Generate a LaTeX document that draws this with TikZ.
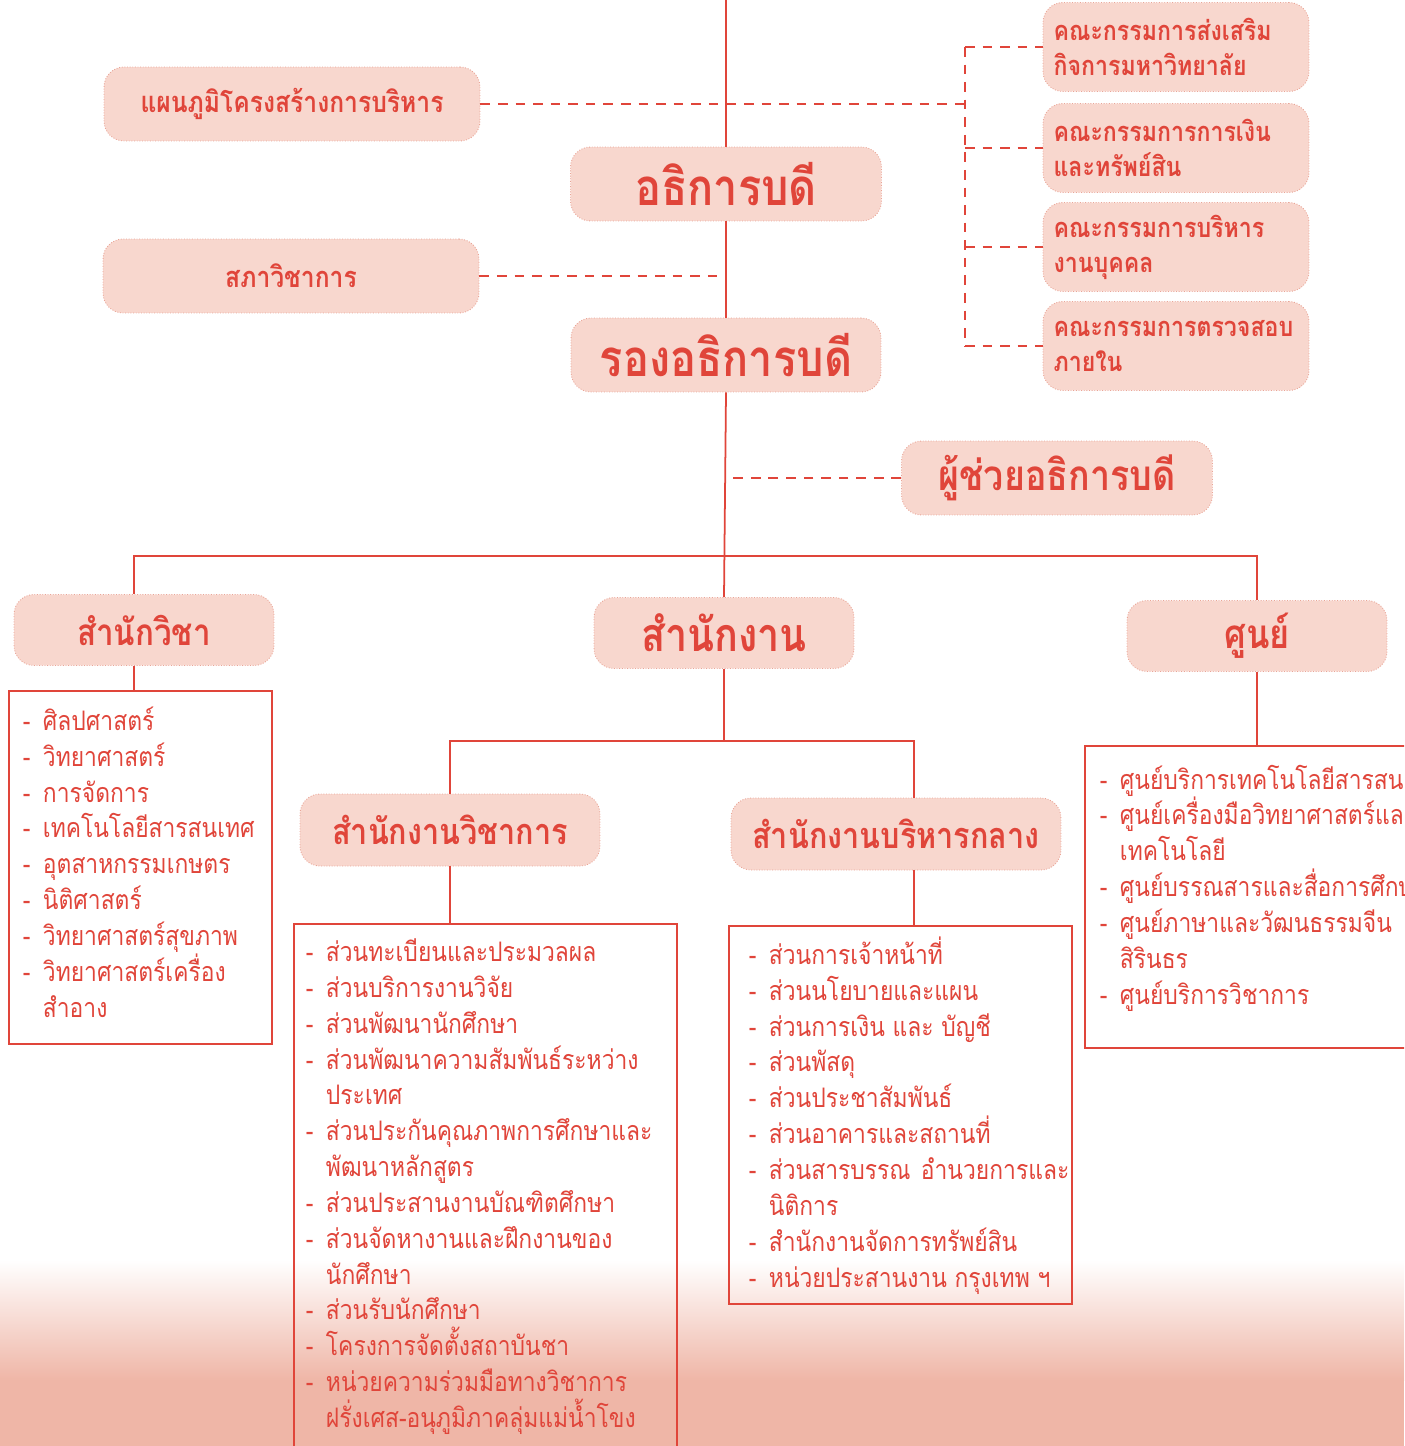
\documentclass[tikz,border=0pt]{standalone}
\usepackage{fontspec}
\newfontfamily\thaifont[Script=Thai, FakeStretch=0.85]{Loma}
\usetikzlibrary{positioning}

\definecolor{chartred}{HTML}{E0453A}
\definecolor{boxfill}{HTML}{F8D7CE}
\definecolor{boxedge}{HTML}{E9A597}
\definecolor{pagefade}{HTML}{EFB6A7}

\newcommand{\dashitem}{\makebox[0.75em][l]{-}}
\newcommand{\wrapitem}{\hspace*{0.75em}}
\newcommand{\listpanel}[4]{\parbox[c][#2][t]{#1}{\raggedright\vspace*{#3}#4}}

\begin{document}
\begin{tikzpicture}[
    x=0.02cm, y=-0.02cm,
    every node/.style={font=\thaifont, text=chartred},
    headbox/.style={draw=boxedge, densely dotted, fill=boxfill, rounded corners=0.4cm, line width=0.5pt, font=\thaifont\bfseries\fontsize{16.5}{20}\selectfont},
    bigbox/.style={headbox, font=\thaifont\bfseries\fontsize{29}{34}\selectfont},
    unitbox/.style={headbox, font=\thaifont\bfseries\fontsize{20.5}{24}\selectfont},
    commbox/.style={headbox, align=left, text width=4.9cm, inner xsep=0.2cm, font=\thaifont\bfseries\fontsize{15.5}{19.8}\selectfont},
    listbox/.style={draw=chartred, line width=0.9pt, anchor=north west, inner ysep=0pt, font=\thaifont\fontsize{15.3}{20.4}\selectfont},
    link/.style={draw=chartred, line width=1pt},
    dashlink/.style={link, dash pattern=on 5.5pt off 4.5pt}
]
\useasboundingbox (0,0) rectangle (1404,1446);
\clip (0,0) rectangle (1404,1446);

% faded page bottom
\fill[top color=white, bottom color=pagefade] (0,1260) rectangle (1404,1380);
\fill[pagefade] (0,1380) rectangle (1404,1446);

% Top of the chart
\node[headbox, minimum width=7.52cm, minimum height=1.48cm] (chart_title) at (292,104) {แผนภูมิโครงสร้างการบริหาร};
\node[headbox, minimum width=7.52cm, minimum height=1.48cm] (council) at (291,276) {สภาวิชาการ};
\node[bigbox, minimum width=6.22cm, minimum height=1.48cm] (president) at (726,184) {อธิการบดี};
\node[bigbox, minimum width=6.2cm, minimum height=1.48cm] (vice_president) at (726,355) {รองอธิการบดี};
\node[bigbox, font=\thaifont\bfseries\fontsize{24}{28}\selectfont, minimum width=6.22cm, minimum height=1.48cm] (assistant) at (1057,478) {ผู้ช่วยอธิการบดี};
\coordinate (trunk_top) at (726,0);

% Committees
\node[commbox, minimum width=5.32cm, minimum height=1.78cm] (com1) at (1176,47) {คณะกรรมการส่งเสริม\\กิจการมหาวิทยาลัย};
\node[commbox, minimum width=5.32cm, minimum height=1.78cm] (com2) at (1176,148) {คณะกรรมการการเงิน\\และทรัพย์สิน};
\node[commbox, minimum width=5.32cm, minimum height=1.78cm] (com3) at (1176,247) {คณะกรรมการบริหาร\\งานบุคคล};
\node[commbox, minimum width=5.32cm, minimum height=1.78cm] (com4) at (1176,346) {คณะกรรมการตรวจสอบ\\ภายใน};
\coordinate (com_bus) at (965,0);

% Units
\node[unitbox, font=\thaifont\bfseries\fontsize{21}{24}\selectfont, minimum width=5.2cm, minimum height=1.42cm] (faculty) at (144,630) {สำนักวิชา};
\node[unitbox, font=\thaifont\bfseries\fontsize{26.5}{30}\selectfont, minimum width=5.2cm, minimum height=1.42cm] (office) at (724,633) {สำนักงาน};
\node[unitbox, font=\thaifont\bfseries\fontsize{23}{26}\selectfont, minimum width=5.2cm, minimum height=1.42cm] (centres) at (1257,636) {ศูนย์};
\node[unitbox, minimum width=6cm, minimum height=1.44cm] (academic_office) at (450,830) {สำนักงานวิชาการ};
\node[unitbox, minimum width=6.6cm, minimum height=1.44cm] (admin_office) at (896,834) {สำนักงานบริหารกลาง};
\coordinate (unit_bus) at (726,556);
\coordinate (office_bus) at (724,741);

% Lists
\node[listbox, inner xsep=0.28cm] (faculty_list) at (8,690) {\listpanel{4.7cm}{7.06cm}{0.32cm}{%
\dashitem ศิลปศาสตร์\\
\dashitem วิทยาศาสตร์\\
\dashitem การจัดการ\\
\dashitem เทคโนโลยีสารสนเทศ\\
\dashitem อุตสาหกรรมเกษตร\\
\dashitem นิติศาสตร์\\
\dashitem วิทยาศาสตร์สุขภาพ\\
\dashitem วิทยาศาสตร์เครื่อง\\
\wrapitem สำอาง}};

\node[listbox, inner xsep=0.24cm] (academic_list) at (293,923) {\listpanel{7.18cm}{11.2cm}{0.3cm}{%
\dashitem ส่วนทะเบียนและประมวลผล\\
\dashitem ส่วนบริการงานวิจัย\\
\dashitem ส่วนพัฒนานักศึกษา\\
\dashitem ส่วนพัฒนาความสัมพันธ์ระหว่าง\\
\wrapitem ประเทศ\\
\dashitem ส่วนประกันคุณภาพการศึกษาและ\\
\wrapitem พัฒนาหลักสูตร\\
\dashitem ส่วนประสานงานบัณฑิตศึกษา\\
\dashitem ส่วนจัดหางานและฝึกงานของ\\
\wrapitem นักศึกษา\\
\dashitem ส่วนรับนักศึกษา\\
\dashitem โครงการจัดตั้งสถาบันชา\\
\dashitem หน่วยความร่วมมือทางวิชาการ\\
\wrapitem \mbox{ฝรั่งเศส-อนุภูมิภาคลุ่มแม่น้ำโขง}}};

\node[listbox, inner xsep=0.4cm] (admin_list) at (728,925) {\listpanel{6.06cm}{7.56cm}{0.22cm}{%
\dashitem ส่วนการเจ้าหน้าที่\\
\dashitem ส่วนนโยบายและแผน\\
\dashitem ส่วนการเงิน~และ~บัญชี\\
\dashitem ส่วนพัสดุ\\
\dashitem ส่วนประชาสัมพันธ์\\
\dashitem ส่วนอาคารและสถานที่\\
\dashitem ส่วนสารบรรณ~~อำนวยการและ\\
\wrapitem นิติการ\\
\dashitem สำนักงานจัดการทรัพย์สิน\\
\dashitem หน่วยประสานงาน~กรุงเทพ~ฯ}};

\node[listbox, inner xsep=0.3cm] (centres_list) at (1084,745) {\listpanel{7cm}{6.04cm}{0.38cm}{%
\dashitem ศูนย์บริการเทคโนโลยีสารสนเทศ\\
\dashitem ศูนย์เครื่องมือวิทยาศาสตร์และ\\
\wrapitem เทคโนโลยี\\
\dashitem ศูนย์บรรณสารและสื่อการศึกษา\\
\dashitem ศูนย์ภาษาและวัฒนธรรมจีน\\
\wrapitem สิรินธร\\
\dashitem ศูนย์บริการวิชาการ}};

% Solid lines
\draw[link] (trunk_top) -- (president.north);
\draw[link] (president.south) -- (vice_president.north);
\draw[link] (vice_president.south) -- (office.north);
\draw[link] ([xshift=-0.2cm]faculty.north) |- (unit_bus) -| (centres.north);
\draw[link] ([xshift=-0.2cm]faculty.south) -- ([xshift=-0.2cm]faculty.south |- faculty_list.north);
\draw[link] (centres.south) -- (centres.south |- centres_list.north);
\draw[link] (office.south) -- (office_bus);
\draw[link] (academic_office.north) |- (office_bus) -| ([xshift=0.36cm]admin_office.north);
\draw[link] (academic_office.south) -- (academic_office.south |- academic_list.north);
\draw[link] ([xshift=0.36cm]admin_office.south) -- ([xshift=0.36cm]admin_office.south |- admin_list.north);

% Dashed lines
\draw[dashlink] (chart_title.east) -- (chart_title.east -| com_bus);
\draw[dashlink] (council.east) -- (council.east -| president.south);
\draw[dashlink] (assistant.west) -- (assistant.west -| vice_president.south);
\draw[dashlink] (com1.west -| com_bus) -- (com4.west -| com_bus);
\foreach \c in {com1,com2,com3,com4}
    \draw[dashlink] (\c.west -| com_bus) -- (\c.west);

\end{tikzpicture}
\end{document}
